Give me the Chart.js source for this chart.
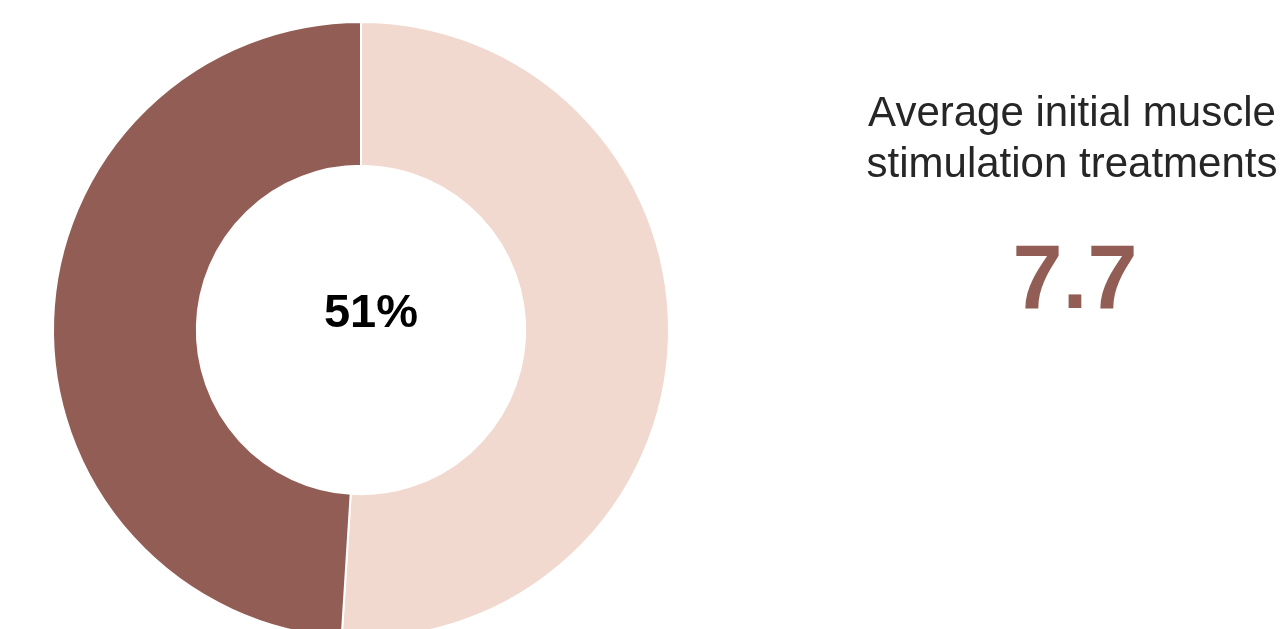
<!DOCTYPE html>
<html>
<head>
<meta charset="utf-8">
<script src="https://cdn.jsdelivr.net/npm/chart.js@4"></script>
<style>
  html, body { margin: 0; padding: 0; background: #fff; overflow: hidden; }
  #wrap { position: absolute; left: 0; top: 0; width: 1283px; height: 660px; }
</style>
</head>
<body>
<div id="wrap"><canvas id="donut" width="1283" height="660"></canvas></div>
<script>
  // data
  const labels = ['Yes', 'No'];
  const shares = [51, 49];
  const colors = ['#F2D9CF', '#925D54'];
  const centerLabel = '51%';
  const sideTitle = ['Average initial muscle', 'stimulation treatments'];
  const sideValue = '7.7';

  const textPlugin = {
    id: 'texts',
    afterDraw(chart) {
      const ctx = chart.ctx;
      ctx.save();
      ctx.textAlign = 'center';
      ctx.textBaseline = 'alphabetic';
      // middle of the ring
      ctx.fillStyle = '#000';
      ctx.font = 'bold 47px "Liberation Sans", Arial, sans-serif';
      ctx.fillText(centerLabel, 371, 327);
      // right side text
      ctx.fillStyle = '#262626';
      ctx.font = '42px "Liberation Sans", Arial, sans-serif';
      ctx.fillText(sideTitle[0], 1072, 126);
      ctx.fillText(sideTitle[1], 1072, 177);
      ctx.fillStyle = '#925D54';
      ctx.font = 'bold 90px "Liberation Sans", Arial, sans-serif';
      ctx.fillText(sideValue, 1075, 308);
      ctx.restore();
    }
  };

  new Chart(document.getElementById('donut'), {
    type: 'doughnut',
    data: {
      labels: labels,
      datasets: [{
        data: shares,
        backgroundColor: colors,
        borderColor: '#ffffff',
        borderWidth: 2
      }]
    },
    options: {
      responsive: false,
      animation: false,
      cutout: '53.3%',
      layout: { padding: { left: 52, top: 21, right: 613, bottom: 21 } },
      plugins: {
        legend: { display: false },
        tooltip: { enabled: false }
      }
    },
    plugins: [textPlugin]
  });
</script>
</body>
</html>
